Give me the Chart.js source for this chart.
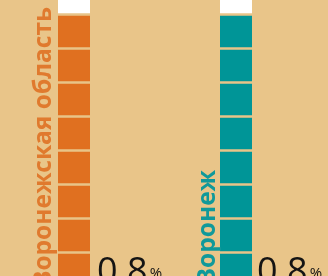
<!DOCTYPE html>
<html>
<head>
<meta charset="utf-8">
<script src="https://cdn.jsdelivr.net/npm/chart.js@4.4.1/dist/chart.umd.min.js"></script>
<style>
  html, body { margin: 0; padding: 0; background: #E9C589; overflow: hidden; }
  canvas { display: block; }
</style>
</head>
<body>
<canvas id="c" width="328" height="276"></canvas>
<script>
// ---- data ----
const categories = ['Воронежская область', 'Воронеж'];
const filledSegments = [8, 8];   // visible coloured blocks per bar
const emptySegments = [1, 1];    // white blocks on top
const percentValues = [0.8, 0.8];

// ---- style ----
const BG = '#E9C589';
const barColors = ['#E07020', '#009597'];
const labelColors = ['#E07A2E', '#10999A'];
const WHITE = '#FFFFFF';

const maxFilled = Math.max(...filledSegments);
const maxEmpty = Math.max(...emptySegments);
const datasets = [];
const segBorder = { top: 1.5, bottom: 1.5, left: 0, right: 0 };
for (let i = 0; i < maxFilled; i++) {
  datasets.push({
    data: categories.map((c, j) => (i < filledSegments[j] ? 1 : 0)),
    backgroundColor: barColors,
    borderColor: BG,
    borderWidth: segBorder,
    borderSkipped: false,
    clip: false
  });
}
for (let i = 0; i < maxEmpty; i++) {
  datasets.push({
    data: categories.map((c, j) => (i < emptySegments[j] ? 1 : 0)),
    backgroundColor: WHITE,
    borderColor: BG,
    borderWidth: segBorder,
    borderSkipped: false,
    clip: false
  });
}

const textPlugin = {
  id: 'texts',
  afterDatasetsDraw(chart) {
    const ctx = chart.ctx;
    const meta = chart.getDatasetMeta(0);
    categories.forEach((name, j) => {
      const bar = meta.data[j];
      const left = bar.x - bar.width / 2;
      const right = bar.x + bar.width / 2;
      // rotated category label
      ctx.save();
      const endY = j === 0 ? 7 : 170;
      ctx.translate(left - (j === 0 ? 7 : 5), endY);
      ctx.rotate(-Math.PI / 2);
      ctx.font = 'bold 24.5px "Open Sans"';
      ctx.fillStyle = labelColors[j];
      ctx.textAlign = 'right';
      ctx.textBaseline = 'alphabetic';
      ctx.fillText(name, 0, 0);
      ctx.restore();
      // value text
      ctx.save();
      ctx.fillStyle = '#141414';
      ctx.textAlign = 'left';
      ctx.textBaseline = 'alphabetic';
      ctx.font = '36px "Open Sans"';
      const num = String(percentValues[j]);
      const x0 = right + (j === 0 ? 7 : 5);
      ctx.fillText(num, x0, 283);
      const w = ctx.measureText(num).width;
      ctx.font = '15px "Open Sans"';
      ctx.fillText('%', x0 + w + 2, 278);
      ctx.restore();
    });
  }
};

new Chart(document.getElementById('c'), {
  type: 'bar',
  data: { labels: categories, datasets },
  options: {
    responsive: false,
    devicePixelRatio: 1,
    animation: false,
    layout: { padding: { left: 74, right: 92, top: 0, bottom: 0 } },
    datasets: { bar: { barThickness: 32 } },
    scales: {
      x: { type: 'category', offset: false, stacked: true, display: false, grid: { display: false } },
      y: { type: 'linear', stacked: true, display: false, min: 0.3088, max: 8.4265, grid: { display: false } }
    },
    plugins: { legend: { display: false }, tooltip: { enabled: false }, title: { display: false } }
  },
  plugins: [textPlugin]
});
</script>
</body>
</html>
